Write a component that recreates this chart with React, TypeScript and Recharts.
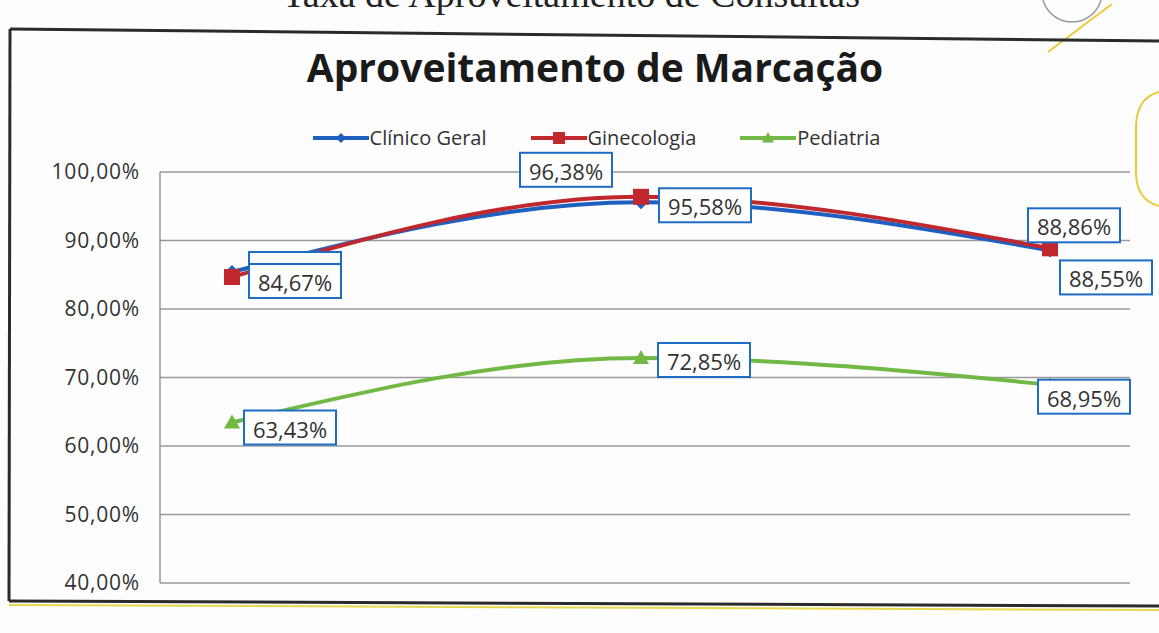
import * as React from 'react';
import { LineChart, Line, XAxis, YAxis, CartesianGrid, Legend } from 'recharts';

const categories = ['Período 1', 'Período 2', 'Período 3'];
const clinicoGeral = [85.4, 95.58, 88.55];
const ginecologia = [84.67, 96.38, 88.86];
const pediatria = [63.43, 72.85, 68.95];
const yTicks = [40, 50, 60, 70, 80, 90, 100];

const BLUE = '#1E5FC0';
const RED = '#C0282E';
const GREEN = '#72B844';
const FONT = '"Open Sans", sans-serif';

const data = categories.map((c, i) => ({
  periodo: c,
  clinico: clinicoGeral[i],
  gineco: ginecologia[i],
  pediatria: pediatria[i],
}));

const fmt = (v: number) => v.toFixed(2).replace('.', ',') + '%';

const Diamond = ({ cx, cy, fill, s = 7 }: any) => (
  <path d={`M${cx},${cy - s}L${cx + s},${cy}L${cx},${cy + s}L${cx - s},${cy}Z`} fill={fill} />
);
const Square = ({ cx, cy, fill, s = 8 }: any) => <rect x={cx - s} y={cy - s} width={s * 2} height={s * 2} fill={fill} />;
const Triangle = ({ cx, cy, fill, s = 8 }: any) => (
  <path d={`M${cx},${cy - s}L${cx + s},${cy + s * 0.75}L${cx - s},${cy + s * 0.75}Z`} fill={fill} />
);

// label box offsets from the point, per index; boxes listed in `covered` sit behind another label
const makeLabel = (offsets: { dx: number; dy: number }[], covered: number[] = []) => (props: any) => {
  const { x, y, value, index } = props;
  const o = offsets[index] || { dx: 0, dy: 0 };
  const w = 92;
  const h = 34;
  const cx = x + o.dx;
  const cy = y + o.dy;
  return (
    <g key={`lbl-${index}`}>
      <rect x={cx - w / 2} y={cy - h / 2} width={w} height={h} fill="#fff" stroke="#1F6CC4" strokeWidth={2} />
      {covered.includes(index) ? null : (
        <text x={cx} y={cy + 1} textAnchor="middle" dominantBaseline="central" fill="#333" fontSize={22} fontFamily={FONT}>
          {fmt(value)}
        </text>
      )}
    </g>
  );
};

const legendItems = [
  { name: 'Clínico Geral', color: BLUE, Shape: Diamond, s: 5 },
  { name: 'Ginecologia', color: RED, Shape: Square, s: 6 },
  { name: 'Pediatria', color: GREEN, Shape: Triangle, s: 6 },
];

const renderLegend = () => (
  <div style={{ display: 'flex', justifyContent: 'center', alignItems: 'center', gap: 44, paddingLeft: 34, fontFamily: FONT, fontSize: 20, color: '#333' }}>
    {legendItems.map((it) => (
      <div key={it.name} style={{ display: 'flex', alignItems: 'center' }}>
        <svg width={56} height={20}>
          <line x1={0} y1={10} x2={56} y2={10} stroke={it.color} strokeWidth={4} />
          <it.Shape cx={28} cy={10} fill={it.color} s={it.s} />
        </svg>
        <span style={{ marginLeft: 1 }}>{it.name}</span>
      </div>
    ))}
  </div>
);

export default function App() {
  return (
    <div style={{ position: 'absolute', left: 0, top: 0, width: 1159, height: 633, overflow: 'hidden', background: '#fdfdfd' }}>
      <div style={{ position: 'absolute', top: -25, right: 299, whiteSpace: 'nowrap', fontFamily: '"Liberation Serif", serif', fontSize: 38, lineHeight: '38px', color: '#222' }}>
        Taxa de Aproveitamento de Consultas
      </div>
      <svg width={1159} height={633} style={{ position: 'absolute', left: 0, top: 0 }}>
        <circle cx={1072} cy={-8} r={30} fill="none" stroke="#999" strokeWidth={1.5} />
        <path d="M1048,52 L1112,4" stroke="#EAC93A" strokeWidth={2} fill="none" />
        <path d="M1159,92 Q1136,98 1136,128 L1136,172 Q1136,200 1159,206" stroke="#EAC93A" strokeWidth={2} fill="none" />
        <path d="M10,29 L1159,41" stroke="#2a2a2a" strokeWidth={3} />
        <path d="M10,29 L9,601" stroke="#2a2a2a" strokeWidth={3} />
        <path d="M9,601 L1159,606" stroke="#2a2a2a" strokeWidth={3} />
        <path d="M9,605 L1159,610" stroke="#E5D84A" strokeWidth={2} />
      </svg>
      <div style={{ position: 'absolute', top: 40, left: 0, width: 1190, textAlign: 'center', fontFamily: FONT, fontWeight: 700, fontSize: 39, color: '#1a1a1a' }}>
        Aproveitamento de Marcação
      </div>
      <div style={{ position: 'absolute', left: 0, top: 0 }}>
        <LineChart width={1159} height={633} data={data} margin={{ top: 172, right: 29, bottom: 50, left: 10 }}>
          <CartesianGrid vertical={false} stroke="#9a9a9a" strokeWidth={1.3} />
          <XAxis dataKey="periodo" hide padding={{ left: 72, right: 80 }} />
          <YAxis
            width={150}
            domain={[40, 100]}
            ticks={yTicks}
            interval={0}
            tickFormatter={(v: number) => fmt(v)}
            axisLine={{ stroke: '#8a8a8a', strokeWidth: 1.3 }}
            tickLine={false}
            tickSize={0}
            tickMargin={20}
            tick={{ fill: '#333', fontSize: 21, fontFamily: FONT, letterSpacing: 0.8 }}
          />
          <Legend
            layout="horizontal"
            verticalAlign="middle"
            align="center"
            content={renderLegend}
            wrapperStyle={{ top: 124, left: 0, width: 1159 }}
          />
          <Line type="monotone" dataKey="clinico" name="Clínico Geral" stroke={BLUE} strokeWidth={4}
            dot={(p: any) => <Diamond key={`d-${p.index}`} cx={p.cx} cy={p.cy} fill={BLUE} />}
            activeDot={false} isAnimationActive={false} />
          <Line type="monotone" dataKey="gineco" name="Ginecologia" stroke={RED} strokeWidth={4}
            dot={(p: any) => <Square key={`s-${p.index}`} cx={p.cx} cy={p.cy} fill={RED} />}
            activeDot={false} isAnimationActive={false} />
          <Line type="monotone" dataKey="pediatria" name="Pediatria" stroke={GREEN} strokeWidth={4}
            dot={(p: any) => <Triangle key={`t-${p.index}`} cx={p.cx} cy={p.cy} fill={GREEN} />}
            activeDot={false} isAnimationActive={false} />
          {/* label layers drawn over all lines */}
          <Line dataKey="clinico" stroke="none" dot={false} activeDot={false} legendType="none" isAnimationActive={false}
            label={makeLabel([{ dx: 63, dy: -3 }, { dx: 64, dy: 3 }, { dx: 56, dy: 27 }], [0])} />
          <Line dataKey="gineco" stroke="none" dot={false} activeDot={false} legendType="none" isAnimationActive={false}
            label={makeLabel([{ dx: 63, dy: 4 }, { dx: -75, dy: -27 }, { dx: 24, dy: -23 }])} />
          <Line dataKey="pediatria" stroke="none" dot={false} activeDot={false} legendType="none" isAnimationActive={false}
            label={makeLabel([{ dx: 58, dy: 5 }, { dx: 63, dy: 2 }, { dx: 34, dy: 12 }])} />
        </LineChart>
      </div>
    </div>
  );
}
